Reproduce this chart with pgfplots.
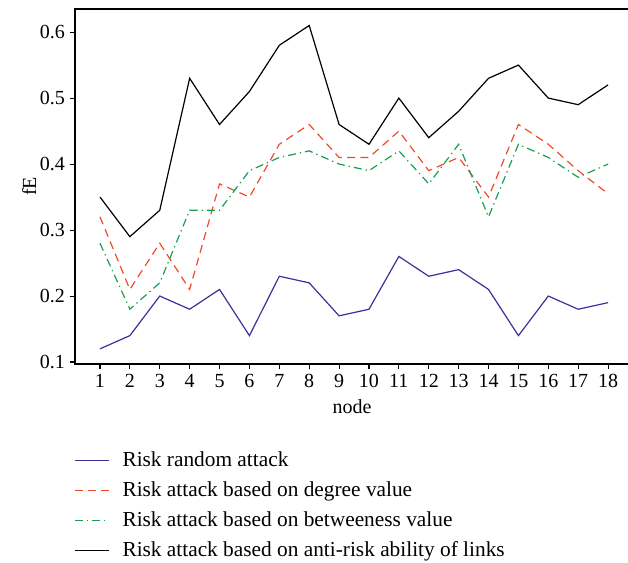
\documentclass[border=0pt]{standalone}
\usepackage{pgfplots}
\pgfplotsset{compat=1.18}
\usepackage{fontspec}
\setmainfont{Liberation Serif}

\definecolor{cblue}{RGB}{58,50,150}
\definecolor{cred}{RGB}{240,74,42}
\definecolor{cgreen}{RGB}{26,158,80}

\begin{document}
\begin{tikzpicture}[x=1pt,y=1pt]
\path[use as bounding box] (-56.25,-148.5) rectangle (414.75,273);
\begin{axis}[
    at={(0,0)}, anchor=south west,
    scale only axis,
    width=415.5pt, height=266.25pt,
    xmin=0.164, xmax=18.7,
    ymin=0.097, ymax=0.635,
    xtick={1,...,18},
    ytick={0.1,0.2,...,0.6},
    yticklabel style={/pgf/number format/.cd,fixed,precision=1,fixed zerofill},
    /pgf/number format/assume math mode=true,
    tick align=outside,
    tick pos=left,
    major tick length=4pt,
    tick style={black, line width=0.8pt},
    axis line style={black, line width=0.9pt},
    font=\fontsize{15}{18}\selectfont,
    xlabel={node},
    ylabel={fE},
    xlabel style={yshift=-2pt},
    ylabel style={yshift=-4pt},
    legend style={
        at={(0,-0.24)}, anchor=north west,
        xshift=-4pt,
        draw=none, fill=none,
        row sep=7.5pt,
        font=\fontsize{16}{19}\selectfont,
        cells={anchor=west},
        nodes={inner xsep=4pt, inner ysep=0pt, text height=11pt, text depth=4pt},
    },
    legend image code/.code={
        \draw[mark repeat=2,mark phase=2,#1] plot coordinates {(0pt,1pt) (13pt,1pt) (26pt,1pt)};
        \path[draw=none,fill=none] (0pt,1pt) -- (32pt,1pt);},
    every axis plot/.append style={line width=0.9pt},
]
\addplot[color=cblue] coordinates {
(1,0.12) (2,0.14) (3,0.20) (4,0.18) (5,0.21) (6,0.14) (7,0.23) (8,0.22) (9,0.17)
(10,0.18) (11,0.26) (12,0.23) (13,0.24) (14,0.21) (15,0.14) (16,0.20) (17,0.18) (18,0.19)};
\addlegendentry{Risk random attack}
\addplot[color=cred, dash pattern=on 6pt off 4pt] coordinates {
(1,0.32) (2,0.21) (3,0.28) (4,0.21) (5,0.37) (6,0.35) (7,0.43) (8,0.46) (9,0.41)
(10,0.41) (11,0.45) (12,0.39) (13,0.41) (14,0.35) (15,0.46) (16,0.43) (17,0.39) (18,0.355)};
\addlegendentry{Risk attack based on degree value}
\addplot[color=cgreen, dash pattern=on 6pt off 3pt on 1pt off 3pt] coordinates {
(1,0.28) (2,0.18) (3,0.22) (4,0.33) (5,0.33) (6,0.39) (7,0.41) (8,0.42) (9,0.40)
(10,0.39) (11,0.42) (12,0.37) (13,0.43) (14,0.32) (15,0.43) (16,0.41) (17,0.38) (18,0.40)};
\addlegendentry{Risk attack based on betweeness value}
\addplot[color=black] coordinates {
(1,0.35) (2,0.29) (3,0.33) (4,0.53) (5,0.46) (6,0.51) (7,0.58) (8,0.61) (9,0.46)
(10,0.43) (11,0.50) (12,0.44) (13,0.48) (14,0.53) (15,0.55) (16,0.50) (17,0.49) (18,0.52)};
\addlegendentry{Risk attack based on anti-risk ability of links}
\end{axis}
\end{tikzpicture}
\end{document}
